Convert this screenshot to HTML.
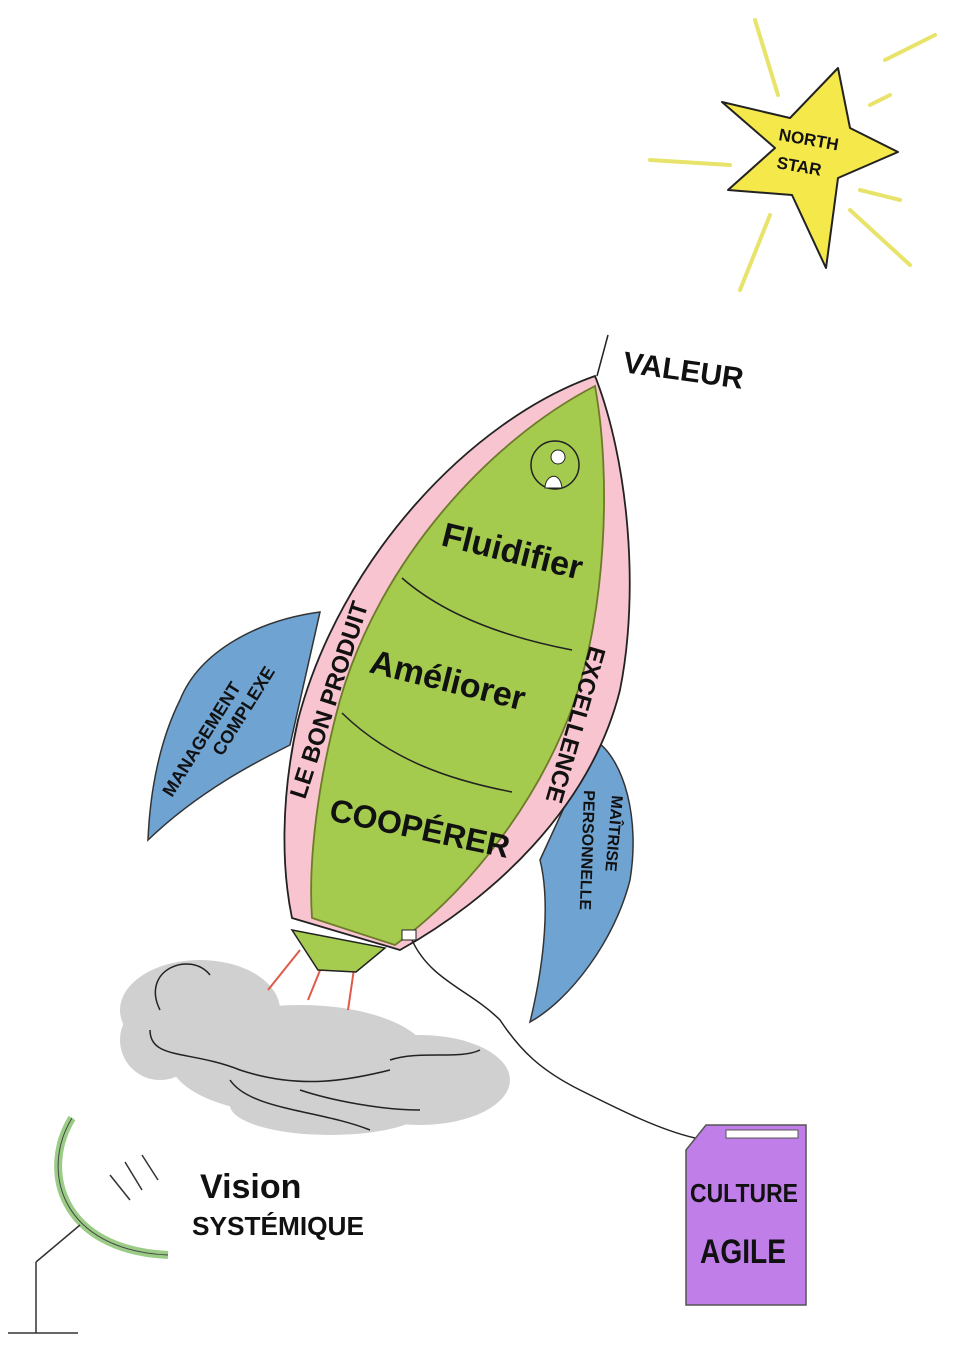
<!DOCTYPE html>
<html><head><meta charset="utf-8"><style>
html,body{margin:0;padding:0;background:#fff;}
svg{display:block;}
text{font-family:"Liberation Sans",sans-serif;font-weight:bold;fill:#111;}
</style></head><body>
<svg width="956" height="1351" viewBox="0 0 956 1351" xmlns="http://www.w3.org/2000/svg">
<!-- star -->
<g stroke="#e8e36a" stroke-width="4" fill="none" stroke-linecap="round">
<line x1="755" y1="20" x2="778" y2="95"/><line x1="885" y1="60" x2="935" y2="35"/>
<line x1="650" y1="160" x2="730" y2="165"/><line x1="850" y1="210" x2="910" y2="265"/>
<line x1="770" y1="215" x2="740" y2="290"/><line x1="870" y1="105" x2="890" y2="95"/>
<line x1="860" y1="190" x2="900" y2="200"/>
</g>
<path d="M838,68 L850,128 L898,152 L838,178 L826,268 L792,195 L728,190 L775,148 L722,102 L790,118 Z" fill="#f5e84a" stroke="#222" stroke-width="2" stroke-linejoin="round"/>
<text x="778" y="140" font-size="17" font-weight="normal" transform="rotate(10 778 140)">NORTH</text>
<text x="776" y="168" font-size="17" font-weight="normal" transform="rotate(10 776 168)">STAR</text>
<!-- fins -->
<path d="M320,612 C260,620 200,650 180,700 C160,740 150,790 148,840 C200,790 260,760 290,745 Z" fill="#6fa3d2" stroke="#333" stroke-width="1.5"/>
<path d="M595,740 C625,760 640,820 630,880 C615,940 570,1000 530,1022 C545,960 550,900 540,860 Z" fill="#6fa3d2" stroke="#333" stroke-width="1.5"/>
<text x="0" y="0" font-size="18" transform="translate(172,798) rotate(-58)">MANAGEMENT</text>
<text x="0" y="0" font-size="18" transform="translate(222,757) rotate(-58)">COMPLEXE</text>
<text x="0" y="0" font-size="16" transform="translate(612,795) rotate(95)">MAÎTRISE</text>
<text x="0" y="0" font-size="16" transform="translate(584,790) rotate(92)">PERSONNELLE</text>
<!-- smoke -->
<g fill="#c8c8c8" opacity="0.85">
<ellipse cx="200" cy="1010" rx="80" ry="50"/><ellipse cx="300" cy="1060" rx="130" ry="55"/>
<ellipse cx="420" cy="1080" rx="90" ry="45"/><ellipse cx="330" cy="1105" rx="100" ry="30"/>
<ellipse cx="160" cy="1040" rx="40" ry="40"/>
</g>
<g stroke="#222" stroke-width="1.5" fill="none">
<path d="M160,1010 C140,970 190,950 210,975"/><path d="M150,1030 C150,1060 190,1050 240,1070 C300,1090 350,1080 390,1070"/>
<path d="M230,1080 C250,1110 320,1110 370,1130"/><path d="M300,1090 C330,1100 380,1110 420,1110"/>
<path d="M390,1060 C420,1050 460,1060 480,1050"/>
</g>
<g stroke="#e05a4a" stroke-width="2"><line x1="300" y1="950" x2="268" y2="990"/><line x1="325" y1="958" x2="308" y2="1000"/><line x1="355" y1="962" x2="348" y2="1010"/></g>
<!-- rocket outer pink -->
<path d="M595,376 C470,420 340,560 298,720 C280,800 282,870 292,918 L400,950 C490,900 590,810 620,690 C640,590 628,460 595,376 Z" fill="#f7c4cf" stroke="#222" stroke-width="1.8"/>
<!-- nozzle -->
<path d="M292,930 L385,948 L356,972 L318,970 Z" fill="#a6cc4f" stroke="#222" stroke-width="1.5"/>
<!-- green body -->
<path d="M595,386 C490,440 380,560 340,700 C318,780 308,860 312,918 L395,945 C470,890 540,800 575,700 C605,610 612,480 595,386 Z" fill="#a4cb4d" stroke="#6e7a2a" stroke-width="1.8"/>
<path d="M402,578 C450,620 520,640 572,650" stroke="#222" stroke-width="1.5" fill="none"/>
<path d="M342,713 C390,760 450,780 512,792" stroke="#222" stroke-width="1.5" fill="none"/>
<circle cx="555" cy="465" r="24" fill="#a4cb4d" stroke="#222" stroke-width="1.5"/>
<circle cx="558" cy="457" r="7" fill="#fff" stroke="#222"/><path d="M545,488 C545,475 560,470 562,488 Z" fill="#fff" stroke="#222"/>
<line x1="597" y1="376" x2="608" y2="335" stroke="#222" stroke-width="1.5"/>
<text x="0" y="0" font-size="34" transform="translate(440,545) rotate(14)">Fluidifier</text>
<text x="0" y="0" font-size="34" transform="translate(368,672) rotate(14)">Améliorer</text>
<text x="0" y="0" font-size="32" transform="translate(328,820) rotate(12)">COOPÉRER</text>
<text x="0" y="0" font-size="24" transform="translate(305,800) rotate(-72)">LE BON PRODUIT</text>
<text x="0" y="0" font-size="24" transform="translate(590,645) rotate(106)">EXCELLENCE</text>
<text x="0" y="0" font-size="30" font-weight="normal" transform="translate(622,372) rotate(8)">VALEUR</text>
<!-- plug & cable -->
<rect x="402" y="930" width="14" height="10" fill="#fff" stroke="#222"/>
<path d="M412,940 C430,980 470,990 500,1020 C520,1050 540,1070 580,1090 C620,1110 660,1130 695,1138" stroke="#222" stroke-width="1.5" fill="none"/>
<!-- canister -->
<path d="M686,1150 L706,1125 L806,1125 L806,1305 L686,1305 Z" fill="#bf7ee8" stroke="#555" stroke-width="1.5"/>
<rect x="726" y="1130" width="72" height="8" fill="#fff" stroke="#555"/>
<text x="690" y="1202" font-size="26" textLength="108" lengthAdjust="spacingAndGlyphs">CULTURE</text>
<text x="700" y="1263" font-size="34" font-weight="normal" textLength="86" lengthAdjust="spacingAndGlyphs">AGILE</text>
<!-- dish -->
<path d="M72,1118 C40,1170 60,1250 168,1255" stroke="#9bcc86" stroke-width="8" fill="none"/>
<path d="M72,1118 C40,1170 60,1250 168,1255" stroke="#444" stroke-width="1" fill="none"/>
<g stroke="#333" stroke-width="1.5"><line x1="110" y1="1175" x2="130" y2="1200"/><line x1="125" y1="1162" x2="142" y2="1190"/><line x1="142" y1="1155" x2="158" y2="1180"/>
<line x1="36" y1="1262" x2="80" y2="1225"/><line x1="36" y1="1262" x2="36" y2="1333"/><line x1="8" y1="1333" x2="78" y2="1333"/></g>
<text x="200" y="1198" font-size="34" font-weight="normal">Vision</text>
<text x="192" y="1235" font-size="26" font-weight="normal" textLength="172" lengthAdjust="spacingAndGlyphs">SYSTÉMIQUE</text>
</svg>
</body></html>
